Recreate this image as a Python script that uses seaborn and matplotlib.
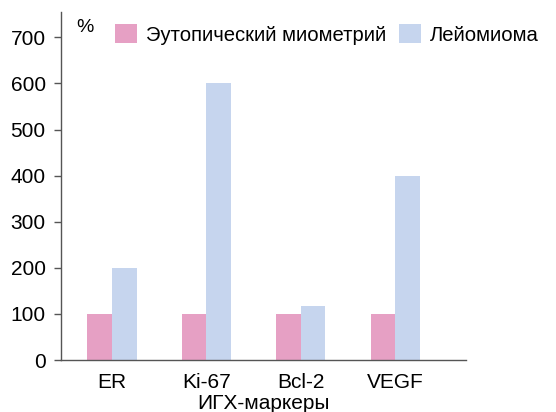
import matplotlib
matplotlib.use("Agg")
import matplotlib.pyplot as plt
import seaborn as sns
import pandas as pd

# Données
markers = ["ER", "Ki-67", "Bcl-2", "VEGF"]
eutopic = [100, 100, 100, 100]
leiomyoma = [200, 600, 118, 400]
groups = ["Эутопический миометрий", "Лейомиома"]
colors = ["#E6A0C4", "#C6D5EE"]

df = pd.DataFrame({
    "marker": markers * 2,
    "value": eutopic + leiomyoma,
    "group": [groups[0]] * len(markers) + [groups[1]] * len(markers),
})

sns.set_style("white")
plt.rcParams["font.family"] = ["Liberation Sans", "DejaVu Sans"]
plt.rcParams["text.color"] = "black"
plt.rcParams["xtick.color"] = "black"
plt.rcParams["ytick.color"] = "black"
plt.rcParams["axes.labelcolor"] = "black"

fig = plt.figure(figsize=(5.56, 4.12), dpi=100)
ax = fig.add_axes([61 / 556, 1 - 360 / 412, (466 - 61) / 556, (360 - 12) / 412])

sns.barplot(data=df, x="marker", y="value", hue="group", palette=colors,
            width=0.52, saturation=1, linewidth=0, ax=ax, legend=True)

ax.set_xlim(-0.54, 3.75)
ax.set_ylim(0, 755)
ax.set_yticks(range(0, 701, 100))
ax.set_xlabel("ИГХ-маркеры", fontsize=15, labelpad=2)
ax.set_ylabel("")

for side in ["top", "right"]:
    ax.spines[side].set_visible(False)
for side in ["left", "bottom"]:
    ax.spines[side].set_color("#555555")
    ax.spines[side].set_linewidth(1.0)

ax.tick_params(axis="y", length=5, width=1, color="#555555", labelcolor="black",
               pad=6, labelsize=15, left=True)
ax.tick_params(axis="x", length=0, pad=9, labelsize=15, labelcolor="black")

ax.legend_.remove()
handles, labels = ax.get_legend_handles_labels()
fig.legend(handles, labels, loc="upper left", bbox_to_anchor=(115 / 556, 1 - 24 / 412),
           ncol=2, frameon=False, fontsize=14.6, handlelength=1.1, handleheight=1.1,
           handletextpad=0.45, columnspacing=0.6, borderpad=0, borderaxespad=0)

fig.text(85 / 556, 1 - 28 / 412, "%", fontsize=14, ha="center", va="center")

plt.savefig("out.png", dpi=100)
plt.close()
